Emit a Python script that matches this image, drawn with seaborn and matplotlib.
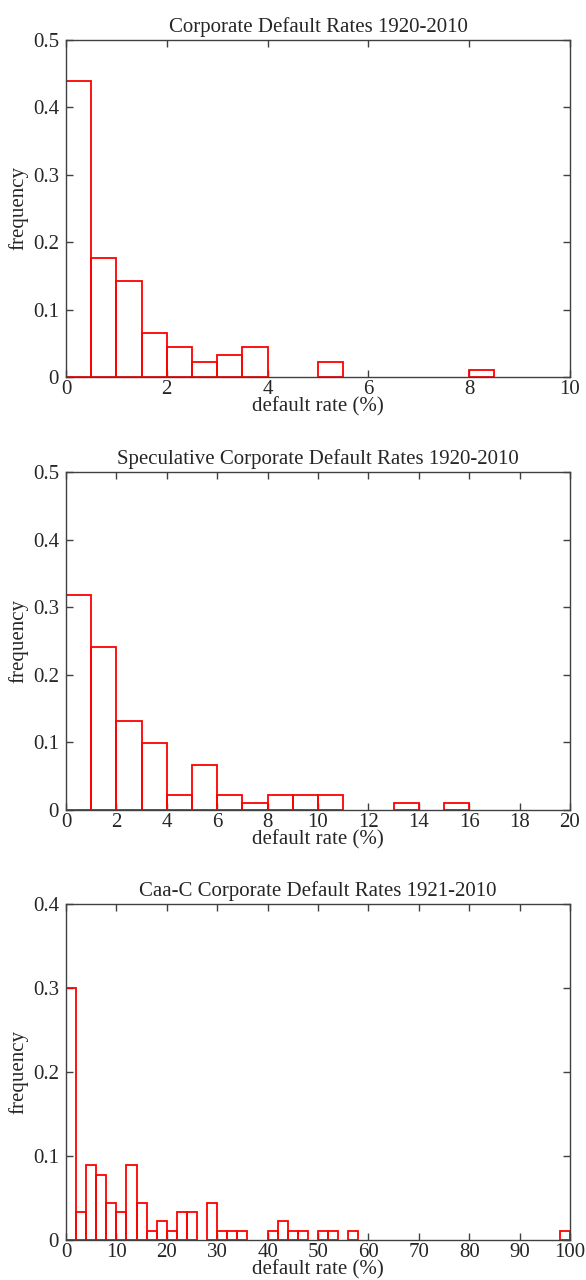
import numpy as np
import pandas as pd
import matplotlib.pyplot as plt
import seaborn as sns

# Histogram counts (years per bin)
all_years = 91          # 1920-2010
all_width = 0.5
all_counts = [40, 16, 13, 6, 4, 2, 3, 4, 0, 0, 2, 0, 0, 0, 0, 0, 1]

spec_years = 91         # 1920-2010
spec_width = 1.0
spec_counts = [29, 22, 12, 9, 2, 6, 2, 1, 2, 2, 2, 0, 0, 1, 0, 1]

caa_years = 90          # 1921-2010
caa_width = 2.0
caa_counts = [27, 3, 8, 7, 4, 3, 8, 4, 1, 2, 1, 3, 3, 0, 4, 1, 1, 1, 0, 0,
              1, 2, 1, 1, 0, 1, 1, 0, 1, 0, 0, 0, 0, 0, 0, 0, 0, 0, 0, 0,
              0, 0, 0, 0, 0, 0, 0, 0, 0, 1]

titles = ["Corporate Default Rates 1920-2010",
          "Speculative Corporate Default Rates 1920-2010",
          "Caa-C Corporate Default Rates 1921-2010"]
x_maxes = [10, 20, 100]
x_steps = [2, 2, 10]
y_maxes = [0.5, 0.5, 0.4]

sns.set_style("ticks")
plt.rcParams['font.family'] = ['Liberation Serif', 'DejaVu Serif']

fig = plt.figure(figsize=(5.86, 12.8), dpi=100)
W, H = 586, 1280
panel_px = [(40, 377), (472, 810), (904, 1240)]
left, right = 66, 570

panels = [(all_counts, all_width, all_years),
          (spec_counts, spec_width, spec_years),
          (caa_counts, caa_width, caa_years)]

for i, (counts, width, n) in enumerate(panels):
    top, bottom = panel_px[i]
    ax = fig.add_axes([left / W, 1 - bottom / H, (right - left) / W, (bottom - top) / H])

    counts = np.array(counts, dtype=float)
    edges = np.arange(len(counts) + 1) * width
    df = pd.DataFrame({"rate": edges[:-1] + width / 2, "freq": counts / n})
    sns.histplot(data=df, x="rate", weights="freq", bins=list(edges),
                 fill=False, color="red", linewidth=1.3, ax=ax)
    # empty bins should not paint a red line along the axis
    for p in list(ax.patches):
        if p.get_height() == 0:
            p.remove()

    ax.set_xlim(0, x_maxes[i])
    ax.set_ylim(0, y_maxes[i])
    xt = np.arange(0, x_maxes[i] + 0.01, x_steps[i])
    yt = np.arange(0, y_maxes[i] + 0.001, 0.1)
    ax.set_xticks(xt)
    ax.set_yticks(yt)
    ax.set_xticklabels([f"{v:g}" for v in xt])
    ax.set_yticklabels([f"{round(v, 1):g}" for v in yt])

    for s in ax.spines.values():
        s.set_visible(True)
        s.set_color("#404040")
        s.set_linewidth(1.0)
    ax.tick_params(direction="in", length=5, width=1, color="#404040",
                   top=True, right=True, labelsize=15)
    ax.tick_params(axis="x", pad=2)
    ax.tick_params(axis="y", pad=5)
    ax.set_title(titles[i], fontsize=15, pad=6)
    ax.set_xlabel("default rate (%)", fontsize=15, labelpad=-1)
    ax.set_ylabel("frequency", fontsize=15, labelpad=3)

fig.savefig("out.png", dpi=100)
